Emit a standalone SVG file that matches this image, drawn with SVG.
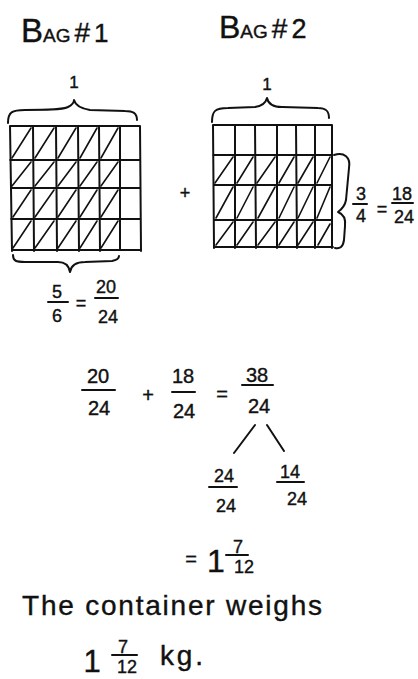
<svg xmlns="http://www.w3.org/2000/svg" width="418" height="679" viewBox="0 0 418 679">
<style>
.ink{fill:none;stroke:#111;stroke-width:2;stroke-linecap:round;stroke-linejoin:round}
.hatch{fill:none;stroke:#111;stroke-width:1.6;stroke-linecap:round}
.t{font-family:"Liberation Sans","DejaVu Sans",sans-serif;fill:#111;stroke:#111;stroke-width:0.4}
.n{font-size:18px;text-anchor:middle}
.m{font-size:20px;text-anchor:middle}
</style>
<rect width="418" height="679" fill="#fff"/>

<g id="bag1">
  <text class="t" x="21" y="42"><tspan font-size="33">B</tspan><tspan font-size="19">AG</tspan><tspan font-size="28" dx="4">#</tspan><tspan font-size="26" dx="4">1</tspan></text>
  <text class="t" x="74" y="88" font-size="17" text-anchor="middle">1</text>
  <path class="ink" d="M8,123 C8,112 12,110 25,110 C45,110 62,110 68,107 C72,105 74,102 74,100 C75,104 78,108 90,110 L125,111 C133,111 137,113 137,120"/>
  <path class="ink" d="M10,126 L140,126 M10,160 L140,160 M11,188 L140,188 M11,219 L140,219 M12,250 L141,250 M10,126 L12,251 M33,126 L34,251 M56,126 L57,251 M78,126 L79,251 M99,126 L100,251 M120,126 L120,249 M140,126 L141,251"/>
  <path class="hatch" d="M12,158 L31,128 M35,158 L54,128 M58,158 L76,128 M80,158 L97,128 M101,158 L118,128 M12,186 L31,162 M35,186 L54,162 M58,186 L76,162 M80,186 L97,162 M101,186 L118,162 M13,217 L31,190 M35,217 L54,190 M58,217 L76,190 M80,217 L97,190 M101,217 L118,190 M13,248 L31,221 M35,248 L54,221 M58,248 L76,221 M80,248 L97,221 M101,248 L118,221"/>
  <path class="ink" d="M13,255 C13,261 16,262 25,262 L58,262 C65,262 69,266 70,272 C71,266 75,262 85,262 L112,261 C117,260 119,259 119,256"/>
  <text class="t n" x="57" y="298">5</text>
  <path class="ink" d="M48,302 L68,302"/>
  <text class="t n" x="57" y="322">6</text>
  <text class="t n" x="81" y="309" font-size="16">=</text>
  <text class="t n" x="106" y="293">20</text>
  <path class="ink" d="M95,298 L118,298"/>
  <text class="t n" x="108" y="323">24</text>
</g>

<g id="plus1">
  <text class="t n" x="185" y="199">+</text>
</g>

<g id="bag2">
  <text class="t" x="219" y="38"><tspan font-size="32">B</tspan><tspan font-size="19">AG</tspan><tspan font-size="28" dx="4">#</tspan><tspan font-size="27" dx="4">2</tspan></text>
  <text class="t" x="267" y="90" font-size="17" text-anchor="middle">1</text>
  <path class="ink" d="M212,122 C212,111 215,108 228,108 L255,107 C262,106 266,102 267,98 C268,103 271,107 282,107 L318,108 C326,108 329,111 329,118"/>
  <path class="ink" d="M213,125 L332,125 M213,155 L331,155 M214,185 L331,185 M214,220 L332,220 M214,247 L333,247 M213,125 L214,248 M235,125 L235,248 M255,125 L256,248 M277,125 L277,248 M296,125 L297,248 M315,125 L315,248 M332,125 L332,248"/>
  <path class="hatch" d="M215,183 L233,157 M237,183 L253,157 M257,183 L275,157 M279,183 L294,157 M298,183 L313,157 M317,183 L330,157 M216,218 L233,187 M237,218 L253,187 M258,218 L275,187 M279,218 L294,187 M298,218 L313,187 M317,218 L330,187 M216,245 L233,222 M237,245 L253,222 M258,245 L275,222 M279,245 L294,222 M298,245 L313,222 M318,245 L330,224"/>
  <path class="ink" d="M334,155 C344,152 351,157 349,168 L346,200 C345,206 342,209 338,212 C343,214 346,218 345,226 L344,240 C343,247 340,249 335,248"/>
  <text class="t n" x="361" y="200" font-size="16">3</text>
  <path class="ink" d="M353,204 L367,204"/>
  <text class="t n" x="361" y="222" font-size="16">4</text>
  <text class="t n" x="382" y="215" font-size="15">=</text>
  <text class="t n" x="402" y="200" font-size="16">18</text>
  <path class="ink" d="M392,203 L413,203"/>
  <text class="t n" x="404" y="223" font-size="16">24</text>
</g>

<g id="sum">
  <text class="t m" x="98" y="383">20</text>
  <path class="ink" d="M82,390 L115,390"/>
  <text class="t m" x="99" y="415">24</text>
  <text class="t m" x="148" y="402">+</text>
  <text class="t m" x="183" y="383">18</text>
  <path class="ink" d="M172,392 L195,392"/>
  <text class="t m" x="184" y="418">24</text>
  <text class="t m" x="222" y="401">=</text>
  <text class="t m" x="257" y="382">38</text>
  <path class="ink" d="M242,385 L273,385"/>
  <text class="t m" x="259" y="413">24</text>
</g>

<g id="connectors">
  <path class="ink" d="M255,425 L234,453 M267,425 L284,451"/>
</g>

<g id="split-left">
  <text class="t n" x="224" y="482">24</text>
  <path class="ink" d="M209,487 L237,487"/>
  <text class="t n" x="226" y="512">24</text>
</g>

<g id="split-right">
  <text class="t n" x="290" y="478">14</text>
  <path class="ink" d="M277,482 L304,482"/>
  <text class="t n" x="297" y="505">24</text>
</g>

<g id="result">
  <text class="t m" x="191" y="566">=</text>
  <text class="t" x="216" y="572" font-size="32" text-anchor="middle">1</text>
  <text class="t n" x="238" y="553" font-size="16">7</text>
  <path class="ink" d="M226,555 L248,555"/>
  <text class="t n" x="244" y="573" font-size="16">12</text>
</g>

<g id="answer">
  <text class="t" x="22" y="615" font-size="28" textLength="300" lengthAdjust="spacing">The container weighs</text>
  <text class="t" x="92" y="672" font-size="31" text-anchor="middle">1</text>
  <text class="t n" x="123" y="653" font-size="16">7</text>
  <path class="ink" d="M112,655 L137,655"/>
  <text class="t n" x="127" y="673" font-size="16">12</text>
  <text class="t" x="160" y="665" font-size="28" textLength="43" lengthAdjust="spacing">kg.</text>
</g>
</svg>
